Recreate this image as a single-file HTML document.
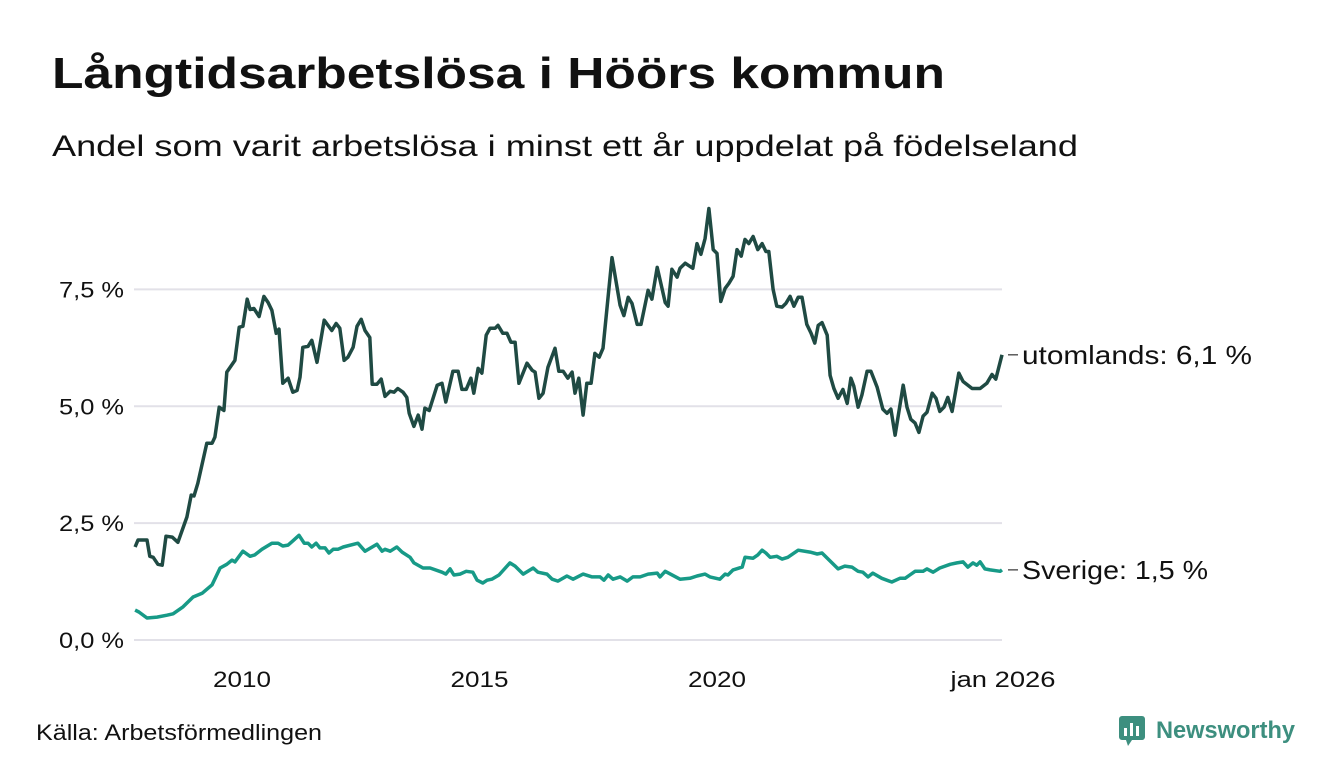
<!DOCTYPE html>
<html><head><meta charset="utf-8"><style>
html,body{margin:0;padding:0;background:#fff;}
svg{display:block;font-family:"Liberation Sans",sans-serif;}
</style></head><body>
<svg id="chart" width="1340" height="780" viewBox="0 0 1340 780">
<text x="52" y="88" font-size="44" font-weight="bold" fill="#111" textLength="893" lengthAdjust="spacingAndGlyphs">Långtidsarbetslösa i Höörs kommun</text>
<text x="52" y="156" font-size="30" fill="#111" textLength="1026" lengthAdjust="spacingAndGlyphs">Andel som varit arbetslösa i minst ett år uppdelat på födelseland</text>
<g id="grid"></g><g id="xaxis"></g><g id="lines"></g><g id="labels"></g>
<text x="36" y="740" font-size="22" fill="#111" textLength="286" lengthAdjust="spacingAndGlyphs">Källa: Arbetsförmedlingen</text>
<g>
<rect x="1119" y="716" width="26" height="24" rx="3" fill="#3d8f7f"/>
<path d="M1126 740 L1132 740 L1128 746 Z" fill="#3d8f7f"/>
<rect x="1124" y="728" width="3" height="8" fill="#fff"/><rect x="1130" y="723" width="3" height="13" fill="#fff"/><rect x="1136" y="726" width="3" height="10" fill="#fff"/>
<text x="1156" y="738" font-size="24" font-weight="bold" fill="#3d8f7f" textLength="139" lengthAdjust="spacingAndGlyphs">Newsworthy</text>
</g>
</svg>
<script>
const yTicks=[0,2.5,5,7.5];
const yTickLabels=["0,0 %","2,5 %","5,0 %","7,5 %"];
const xTicks=[2010,2015,2020,2026];
const xTickLabels=["2010","2015","2020","jan 2026"];
const utlT=[2007.75,2007.81,2008.00,2008.06,2008.13,2008.23,2008.32,2008.40,2008.53,2008.65,2008.84,2008.93,2008.99,2009.07,2009.26,2009.37,2009.43,2009.52,2009.62,2009.68,2009.85,2009.94,2010.02,2010.11,2010.17,2010.25,2010.36,2010.46,2010.55,2010.63,2010.72,2010.78,2010.86,2010.97,2011.07,2011.16,2011.22,2011.28,2011.39,2011.47,2011.58,2011.73,2011.89,2011.98,2012.06,2012.15,2012.23,2012.34,2012.42,2012.51,2012.59,2012.69,2012.74,2012.84,2012.93,2013.01,2013.12,2013.20,2013.28,2013.39,2013.47,2013.52,2013.62,2013.71,2013.79,2013.85,2013.94,2014.11,2014.21,2014.29,2014.44,2014.55,2014.63,2014.72,2014.82,2014.88,2014.97,2015.05,2015.14,2015.22,2015.33,2015.39,2015.49,2015.58,2015.66,2015.75,2015.83,2016.00,2016.11,2016.17,2016.25,2016.34,2016.44,2016.59,2016.67,2016.76,2016.86,2016.95,2017.01,2017.09,2017.18,2017.26,2017.35,2017.43,2017.52,2017.60,2017.79,2017.96,2018.04,2018.13,2018.21,2018.32,2018.40,2018.55,2018.63,2018.74,2018.91,2018.97,2019.05,2019.16,2019.22,2019.33,2019.49,2019.58,2019.66,2019.75,2019.83,2019.92,2020.00,2020.08,2020.17,2020.25,2020.34,2020.42,2020.51,2020.59,2020.67,2020.76,2020.86,2020.95,2021.03,2021.09,2021.18,2021.26,2021.37,2021.45,2021.54,2021.62,2021.71,2021.79,2021.89,2021.98,2022.06,2022.13,2022.21,2022.32,2022.38,2022.46,2022.55,2022.65,2022.74,2022.82,2022.88,2022.97,2023.05,2023.16,2023.24,2023.37,2023.49,2023.58,2023.66,2023.75,2023.92,2024.00,2024.08,2024.17,2024.25,2024.34,2024.42,2024.53,2024.61,2024.69,2024.78,2024.86,2024.95,2025.09,2025.18,2025.37,2025.54,2025.68,2025.79,2025.87,2026.0];
const utlV=[1.99,2.14,2.14,1.79,1.77,1.62,1.60,2.22,2.20,2.09,2.63,3.10,3.08,3.35,4.21,4.21,4.34,4.98,4.91,5.73,5.98,6.69,6.71,7.29,7.07,7.09,6.92,7.35,7.22,7.05,6.56,6.65,5.49,5.60,5.30,5.34,5.62,6.26,6.28,6.41,5.94,6.84,6.62,6.77,6.67,5.98,6.05,6.26,6.71,6.86,6.62,6.47,5.47,5.47,5.58,5.21,5.32,5.30,5.38,5.30,5.19,4.85,4.57,4.81,4.51,4.96,4.91,5.45,5.49,5.09,5.75,5.75,5.36,5.36,5.60,5.28,5.81,5.71,6.52,6.67,6.67,6.73,6.56,6.56,6.37,6.37,5.49,5.92,5.77,5.73,5.17,5.28,5.83,6.24,5.75,5.75,5.60,5.73,5.28,5.60,4.81,5.49,5.49,6.13,6.05,6.24,8.18,7.16,6.94,7.33,7.20,6.75,6.75,7.48,7.29,7.97,7.22,7.14,7.93,7.76,7.95,8.06,7.95,8.48,8.25,8.59,9.23,8.35,8.27,7.24,7.52,7.63,7.78,8.35,8.21,8.57,8.48,8.63,8.35,8.48,8.31,8.31,7.50,7.14,7.12,7.20,7.35,7.14,7.33,7.33,6.75,6.56,6.35,6.73,6.79,6.52,5.66,5.38,5.17,5.36,5.06,5.60,5.43,4.98,5.24,5.75,5.75,5.41,4.94,4.85,4.94,4.38,5.45,4.98,4.72,4.64,4.44,4.79,4.87,5.28,5.17,4.89,4.98,5.19,4.89,5.71,5.53,5.38,5.38,5.49,5.68,5.58,6.1];
const sveT=[2007.75,2007.83,2008.00,2008.21,2008.42,2008.55,2008.76,2008.97,2009.16,2009.37,2009.54,2009.68,2009.79,2009.85,2010.02,2010.17,2010.27,2010.42,2010.63,2010.76,2010.86,2010.97,2011.07,2011.20,2011.31,2011.39,2011.47,2011.56,2011.64,2011.75,2011.83,2011.92,2012.02,2012.13,2012.44,2012.59,2012.84,2012.95,2013.01,2013.12,2013.26,2013.37,2013.54,2013.62,2013.81,2013.96,2014.21,2014.29,2014.38,2014.46,2014.59,2014.72,2014.86,2014.95,2015.07,2015.16,2015.26,2015.41,2015.64,2015.75,2015.92,2016.13,2016.23,2016.42,2016.53,2016.65,2016.84,2016.97,2017.18,2017.37,2017.54,2017.62,2017.71,2017.81,2017.96,2018.11,2018.23,2018.38,2018.55,2018.74,2018.80,2018.91,2019.22,2019.43,2019.58,2019.75,2019.85,2020.06,2020.17,2020.23,2020.34,2020.53,2020.59,2020.76,2020.86,2020.95,2021.03,2021.12,2021.26,2021.37,2021.49,2021.71,2021.96,2022.11,2022.21,2022.55,2022.69,2022.84,2022.97,2023.07,2023.18,2023.28,2023.47,2023.68,2023.85,2023.96,2024.06,2024.17,2024.34,2024.42,2024.55,2024.69,2024.91,2025.05,2025.18,2025.28,2025.39,2025.47,2025.54,2025.64,2025.75,2025.96,2026.0];
const sveV=[0.64,0.60,0.47,0.49,0.53,0.56,0.71,0.92,1.00,1.18,1.54,1.62,1.71,1.67,1.90,1.79,1.82,1.94,2.07,2.07,2.01,2.03,2.12,2.24,2.07,2.07,1.99,2.07,1.97,1.97,1.86,1.94,1.94,1.99,2.07,1.90,2.05,1.90,1.94,1.90,1.99,1.88,1.77,1.65,1.54,1.54,1.45,1.41,1.52,1.39,1.41,1.47,1.45,1.28,1.22,1.28,1.30,1.39,1.65,1.58,1.41,1.54,1.45,1.41,1.30,1.26,1.37,1.30,1.41,1.35,1.35,1.28,1.39,1.30,1.35,1.26,1.35,1.35,1.41,1.43,1.35,1.47,1.30,1.32,1.37,1.41,1.35,1.30,1.41,1.39,1.50,1.56,1.77,1.75,1.82,1.92,1.86,1.77,1.79,1.73,1.77,1.92,1.88,1.84,1.86,1.52,1.58,1.56,1.47,1.45,1.35,1.43,1.32,1.24,1.32,1.32,1.39,1.47,1.47,1.52,1.45,1.54,1.62,1.65,1.67,1.56,1.65,1.60,1.67,1.52,1.50,1.47,1.5];
const NS="http://www.w3.org/2000/svg";
const X=t=>242+(t-2010)*47.5;
const Y=v=>640-v*46.75;
function mk(tag,attrs,parent){const e=document.createElementNS(NS,tag);for(const k in attrs)e.setAttribute(k,attrs[k]);document.getElementById(parent).appendChild(e);return e;}
yTicks.forEach((v,i)=>{
 const l=mk('line',{x1:134,x2:1002,y1:Y(v),y2:Y(v),stroke:'#e2e1e8','stroke-width':2},'grid');
 
 
 const t=mk('text',{x:124,y:Y(v)+8,'text-anchor':'end','font-size':22,fill:'#111',textLength:65,lengthAdjust:'spacingAndGlyphs'},'grid');
 t.textContent=yTickLabels[i];
 
 
});
xTicks.forEach((v,i)=>{
 const w=i==3?105:58;
 const t=mk('text',{x:X(v)+(i==3?1:0)-w/2,y:687,'font-size':22,fill:'#111',textLength:w,lengthAdjust:'spacingAndGlyphs'},'xaxis');
 t.textContent=xTickLabels[i];
 
 
});
function line(T,V,color,name){
 const d=T.map((t,i)=>(i?'L':'M')+X(t).toFixed(1)+' '+Y(V[i]).toFixed(1)).join('');
 const p=mk('path',{d:d,fill:'none',stroke:color,'stroke-width':3.5,'stroke-linejoin':'round'},'lines');
 
 
}
line(sveT,sveV,'#179a87','line-sverige');
line(utlT,utlV,'#1f4a43','line-utomlands');
function endLabel(T,V,label,name,w){
 const x=X(T[T.length-1]),y=Y(V[V.length-1]);
 mk('line',{x1:x+6,x2:x+16,y1:y,y2:y,stroke:'#333','stroke-width':1.2},'labels');
 const t=mk('text',{x:x+20,y:y+9,'font-size':26,fill:'#111',textLength:w,lengthAdjust:'spacingAndGlyphs'},'labels');
 t.textContent=label+': '+V[V.length-1].toFixed(1).replace('.',',')+' %';
 
 
}
endLabel(utlT,utlV,'utomlands','label-utomlands',230);
endLabel(sveT,sveV,'Sverige','label-sverige',186);
</script>
</body></html>
